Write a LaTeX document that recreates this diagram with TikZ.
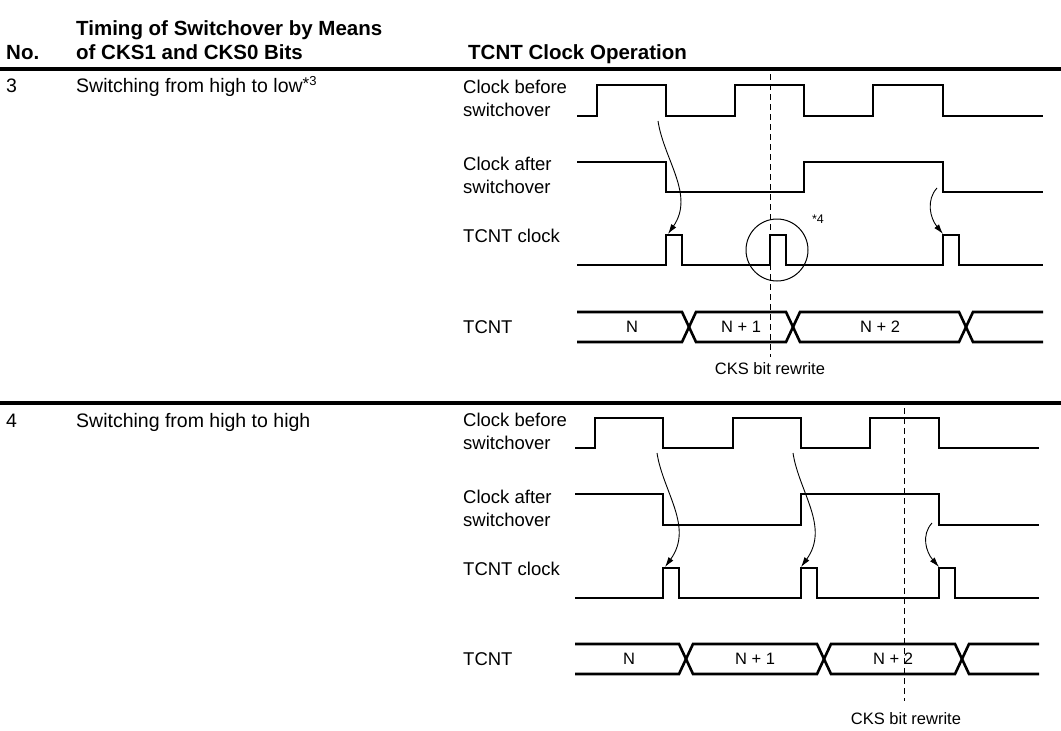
\documentclass[tikz,border=0pt]{standalone}
\usepackage{fontspec}
\setmainfont{Liberation Sans}
\usetikzlibrary{arrows.meta}
\tikzset{
  hdr/.style={font=\bfseries\fontsize{20.5}{24}\selectfont, anchor=base west, inner sep=0pt},
  body/.style={font=\fontsize{19.5}{23}\selectfont, anchor=base west, inner sep=0pt},
  lab/.style={font=\fontsize{18.5}{23}\selectfont, align=left, anchor=west, inner sep=0pt},
  small/.style={font=\fontsize{16.5}{20}\selectfont, inner sep=0pt},
  tiny/.style={font=\fontsize{12.5}{14}\selectfont, inner sep=0pt},
  rulel/.style={line width=3.2pt},
  wave/.style={line width=2.6pt, line join=miter, line cap=butt},
  cksline/.style={line width=0.9pt, dash pattern=on 6pt off 4pt},
  thinl/.style={line width=1pt},
  arr/.style={line width=0.9pt, -{Latex[length=10pt,width=6pt]}},
}
\begin{document}
\begin{tikzpicture}[x=1pt,y=-1pt]
\useasboundingbox (0,0) rectangle (1061,731);
% header
\node[hdr] (h1) at (76,35) {Timing of Switchover by Means};
\node[hdr] (hno) at (6,59) {No.};
\node[hdr] (h2) at (76,59) {of CKS1 and CKS0 Bits};
\node[hdr] (h3) at (468,59) {TCNT Clock Operation};
\draw[rulel] (0,69) -- (1061,69);
\draw[rulel] (0,403) -- (1061,403);
% row 3
\node[body] (n3) at (6,92) {3};
\node[body] (t3) at (76,92) {Switching from high to low\raisebox{3pt}{\fontsize{17}{17}\selectfont *}\raisebox{7pt}{\fontsize{13}{13}\selectfont 3}};
\node[lab] (cb3) at (463,98.5) {Clock before\\switchover};
\node[lab] (ca3) at (463,175.5) {Clock after\\switchover};
\node[lab] (tc3) at (463,236) {TCNT clock};
\node[lab] (tn3) at (463,327) {TCNT};
% waves row 3
\draw[wave] (577,116) -- (597,116) -- (597,85) -- (666,85) -- (666,116) -- (735,116) -- (735,85) -- (804,85) -- (804,116) -- (873,116) -- (873,85) -- (943,85) -- (943,116) -- (1043,116);
\draw[wave] (577,162) -- (666,162) -- (666,192) -- (804,192) -- (804,162) -- (943,162) -- (943,192) -- (1043,192);
\draw[wave] (577,265) -- (666,265) -- (666,235) -- (682,235) -- (682,265) -- (770,265) -- (770,235) -- (786,235) -- (786,265) -- (943,265) -- (943,235) -- (959,235) -- (959,265) -- (1043,265);
\draw[wave] (577,312) -- (682,312) -- (696,342) -- (786,342) -- (800,312) -- (959,312) -- (973,342) -- (1043,342);
\draw[wave] (577,342) -- (682,342) -- (696,312) -- (786,312) -- (800,342) -- (959,342) -- (973,312) -- (1043,312);
\node[small] (b31) at (632,327) {N};
\node[small] (b32) at (741,327) {N + 1};
\node[small] (b33) at (880,327) {N + 2};
\coordinate (d3a) at (770,74);
\coordinate (d3b) at (770,357);
\draw[cksline] (d3a) -- (d3b);
\node[small] (ck3) at (770,369) {CKS bit rewrite};
\node[thinl, draw, circle, minimum size=62pt] (c4) at (777,250) {};
\node[tiny] (s4) at (818,219) {*4};
\coordinate (a31s) at (658,121); \coordinate (a31e) at (668,234);
\coordinate (a32s) at (937,188); \coordinate (a32e) at (943,234);
\draw[arr] (a31s) .. controls (664,160) and (695,195) .. (a31e);
\draw[arr] (a32s) .. controls (926,200) and (930,218) .. (a32e);
% row 4
\node[body] (n4) at (6,427) {4};
\node[body] (t4) at (76,427) {Switching from high to high};
\node[lab] (cb4) at (463,431.5) {Clock before\\switchover};
\node[lab] (ca4) at (463,508) {Clock after\\switchover};
\node[lab] (tc4) at (463,569) {TCNT clock};
\node[lab] (tn4) at (463,659) {TCNT};
\draw[wave] (575,448) -- (595,448) -- (595,418) -- (663,418) -- (663,448) -- (733,448) -- (733,418) -- (801,418) -- (801,448) -- (870,448) -- (870,418) -- (939,418) -- (939,448) -- (1039,448);
\draw[wave] (575,494) -- (663,494) -- (663,525) -- (801,525) -- (801,494) -- (939,494) -- (939,525) -- (1039,525);
\draw[wave] (575,598) -- (663,598) -- (663,568) -- (679,568) -- (679,598) -- (801,598) -- (801,568) -- (817,568) -- (817,598) -- (939,598) -- (939,568) -- (955,568) -- (955,598) -- (1039,598);
\draw[wave] (575,644) -- (679,644) -- (693,674) -- (817,674) -- (831,644) -- (955,644) -- (969,674) -- (1039,674);
\draw[wave] (575,674) -- (679,674) -- (693,644) -- (817,644) -- (831,674) -- (955,674) -- (969,644) -- (1039,644);
\node[small] (b41) at (629,659) {N};
\node[small] (b42) at (755,659) {N + 1};
\node[small] (b43) at (893,659) {N + 2};
\coordinate (d4a) at (904,408);
\coordinate (d4b) at (904,701);
\draw[cksline] (d4a) -- (d4b);
\node[small] (ck4) at (906,719) {CKS bit rewrite};
\coordinate (a41s) at (657,453); \coordinate (a41e) at (665,567);
\coordinate (a42s) at (793,453); \coordinate (a42e) at (801,567);
\coordinate (a43s) at (932,523); \coordinate (a43e) at (939,567);
\draw[arr] (a41s) .. controls (663,492) and (694,527) .. (a41e);
\draw[arr] (a42s) .. controls (799,492) and (830,527) .. (a42e);
\draw[arr] (a43s) .. controls (921,535) and (926,552) .. (a43e);
\end{tikzpicture}
\end{document}
